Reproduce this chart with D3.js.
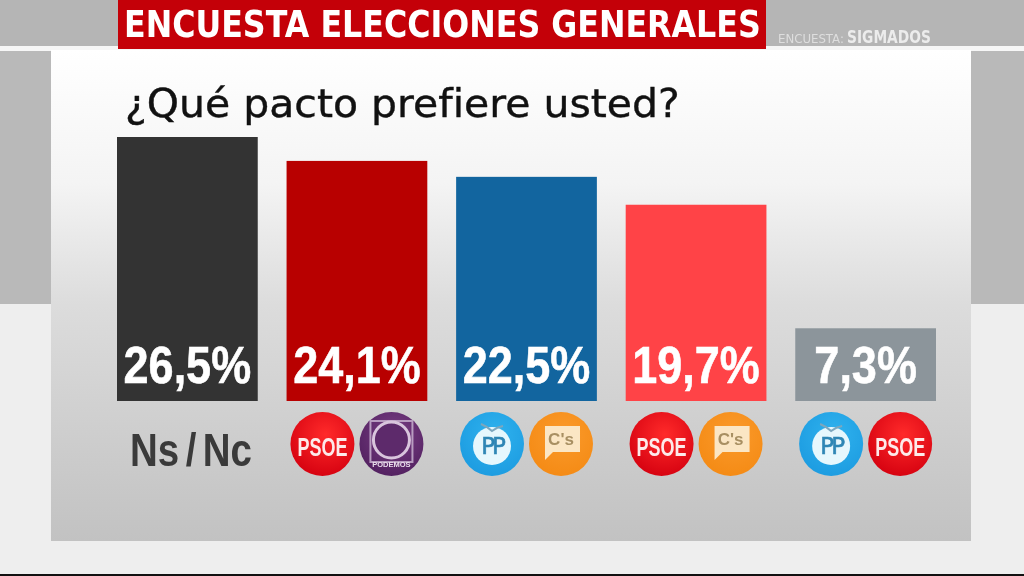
<!DOCTYPE html>
<html lang="es">
<head>
<meta charset="utf-8">
<title>Encuesta elecciones generales</title>
<script src="https://cdnjs.cloudflare.com/ajax/libs/d3/7.9.0/d3.min.js"></script>
<style>
html, body { margin: 0; padding: 0; background: #eeeeee; overflow: hidden; }
svg { display: block; filter: blur(0.6px); }
</style>
</head>
<body>
<svg id="chart"></svg>
<script>
// Datos ----------------------------------------------------------------------
const categorias = ["nsnc", "psoe-podemos", "pp-cs", "psoe-cs", "pp-psoe"];
const valores = [26.5, 24.1, 22.5, 19.7, 7.3];
const etiquetas = ["26,5%", "24,1%", "22,5%", "19,7%", "7,3%"];
const colores = ["#333333", "#b80000", "#12659f", "#ff4347", "#8c959b"];
const pactos = [[], ["psoe", "podemos"], ["pp", "cs"], ["psoe", "cs"], ["pp", "psoe"]];

const titulo = "ENCUESTA ELECCIONES GENERALES";
const pregunta = "¿Qué pacto prefiere usted?";
const sinOpinion = "Ns / Nc";
const fuenteRotulo = "ENCUESTA:";
const fuenteNombre = "SIGMADOS";

// Configuracion --------------------------------------------------------------
const width = 1024;
const height = 576;
const baseY = 401;
const iconY = 444;
const iconR = 32;
const fuenteBarra = "'Liberation Sans', Arial, sans-serif";

const x = d3.scaleBand().domain(categorias).range([117, 936]).paddingInner(0.17);
const y = d3.scaleLinear().domain([0, 26.5]).range([baseY, 137]);

const svg = d3.select("#chart").attr("width", width).attr("height", height);
const defs = svg.append("defs");

const panelGrad = defs.append("linearGradient")
    .attr("id", "panelGrad").attr("x1", 0).attr("y1", 0).attr("x2", 0).attr("y2", 1);
panelGrad.append("stop").attr("offset", "0").attr("stop-color", "#ffffff");
panelGrad.append("stop").attr("offset", "0.27").attr("stop-color", "#f4f4f4");
panelGrad.append("stop").attr("offset", "0.52").attr("stop-color", "#dcdcdc");
panelGrad.append("stop").attr("offset", "1").attr("stop-color", "#c2c2c2");

// Brillo de cada logo
function radial(id, centro, borde) {
    const g = defs.append("radialGradient").attr("id", id)
        .attr("cx", "55%").attr("cy", "35%").attr("r", "70%");
    g.append("stop").attr("offset", "0").attr("stop-color", centro);
    g.append("stop").attr("offset", "1").attr("stop-color", borde);
}
radial("gPsoe", "#ff2a2a", "#d4000f");
radial("gPodemos", "#7a3f85", "#51205f");
radial("gPp", "#2fb2ee", "#1c9be0");
radial("gCs", "#fb9a2b", "#f48a14");

// Comprime un texto en horizontal hasta el ancho pedido
function ajustar(sel, xp, yp, ancho) {
    const natural = sel.node().getComputedTextLength();
    sel.attr("transform", `translate(${xp},${yp}) scale(${ancho / natural},1)`);
}

// Fondo ----------------------------------------------------------------------
function rect(xp, yp, w, h, fill) {
    return svg.append("rect").attr("x", xp).attr("y", yp).attr("width", w).attr("height", h).attr("fill", fill);
}
rect(0, 0, width, height, "#eeeeee");
rect(0, 0, width, 46, "#b5b5b5");
rect(0, 46, width, 5, "#f6f6f6");
rect(0, 51, 51, 253, "#b9b9b9");
rect(971, 51, 53, 253, "#b9b9b9");
rect(51, 50, 920, 491, "url(#panelGrad)");
rect(0, 574, width, 2, "#111111");

// Cabecera -------------------------------------------------------------------
rect(118, 0, 648, 49, "#c40008");
const tituloTxt = svg.append("text")
    .attr("font-family", "'DejaVu Sans'").attr("font-weight", "bold").attr("font-size", 38)
    .attr("fill", "#ffffff").text(titulo);
ajustar(tituloTxt, 124, 37, 637);

const rotuloTxt = svg.append("text")
    .attr("font-family", "'DejaVu Sans'").attr("font-size", 12)
    .attr("fill", "#dedede").text(fuenteRotulo);
ajustar(rotuloTxt, 778, 43, 66);
const nombreTxt = svg.append("text")
    .attr("font-family", "'DejaVu Sans'").attr("font-weight", "bold").attr("font-size", 17)
    .attr("fill", "#ececec").text(fuenteNombre);
ajustar(nombreTxt, 847, 43, 84);

const preguntaTxt = svg.append("text")
    .attr("font-family", "'DejaVu Sans'").attr("font-size", 39)
    .attr("stroke", "#111111").attr("stroke-width", 0.4)
    .attr("fill", "#111111").text(pregunta);
ajustar(preguntaTxt, 125, 117, 555);

// Barras ---------------------------------------------------------------------
svg.append("g").selectAll("rect")
    .data(categorias)
    .join("rect")
    .attr("x", d => x(d))
    .attr("y", (d, i) => y(valores[i]))
    .attr("width", x.bandwidth())
    .attr("height", (d, i) => baseY - y(valores[i]))
    .attr("fill", (d, i) => colores[i]);

svg.append("g").selectAll("text")
    .data(categorias)
    .join("text")
    .attr("x", d => x(d) + x.bandwidth() / 2)
    .attr("y", 383)
    .attr("text-anchor", "middle")
    .attr("font-family", fuenteBarra).attr("font-weight", "bold").attr("font-size", 52)
    .attr("stroke", "#ffffff").attr("stroke-width", 0.6)
    .attr("fill", "#ffffff")
    .text((d, i) => etiquetas[i])
    .each(function () {
        // La rotulacion original es condensada
        d3.select(this)
            .attr("textLength", this.getComputedTextLength() * 0.865)
            .attr("lengthAdjust", "spacingAndGlyphs");
    });

// Ns / Nc
svg.append("text")
    .attr("x", 191).attr("y", 466)
    .attr("text-anchor", "middle")
    .attr("textLength", 122).attr("lengthAdjust", "spacingAndGlyphs")
    .attr("word-spacing", -5)
    .attr("font-family", fuenteBarra).attr("font-weight", "bold").attr("font-size", 46)
    .attr("fill", "#3a3a3a").text(sinOpinion);

// Logos ----------------------------------------------------------------------
function logoPsoe(g) {
    g.append("circle").attr("r", iconR).attr("fill", "url(#gPsoe)");
    g.append("text").attr("y", 12).attr("text-anchor", "middle")
        .attr("font-family", fuenteBarra).attr("font-weight", "bold").attr("font-size", 26)
        .attr("textLength", 50).attr("lengthAdjust", "spacingAndGlyphs")
        .attr("fill", "#fdeaea").text("PSOE");
}
function logoPodemos(g) {
    g.append("circle").attr("r", iconR).attr("fill", "url(#gPodemos)");
    g.append("path").attr("d", "M-21,-23H21V18H-21Z").attr("fill", "none").attr("stroke", "#b89cc0").attr("stroke-width", 2);
    g.append("circle").attr("cy", -4).attr("r", 18).attr("fill", "#5d2a6b").attr("stroke", "#d9c5dd").attr("stroke-width", 3);
    g.append("text").attr("y", 23).attr("text-anchor", "middle")
        .attr("font-family", fuenteBarra).attr("font-size", 7.5).attr("font-weight", "bold")
        .attr("fill", "#e8dcea").text("PODEMOS");
}
function logoPp(g) {
    g.append("circle").attr("r", iconR).attr("fill", "url(#gPp)");
    g.append("circle").attr("cy", 2).attr("r", 19).attr("fill", "#e6f7fd");
    g.append("path").attr("d", "M-11,-20Q-4,-17 0,-13Q5,-17 11,-18").attr("fill", "none").attr("stroke", "#7da6bd").attr("stroke-width", 2);
    g.append("text").attr("y", 10).attr("text-anchor", "middle")
        .attr("font-family", "'DejaVu Sans'").attr("font-size", 23)
        .attr("letter-spacing", -3).attr("stroke", "#2f86b5").attr("stroke-width", 0.6)
        .attr("fill", "#2f86b5").text("PP");
}
function logoCs(g) {
    g.append("circle").attr("r", iconR).attr("fill", "url(#gCs)");
    g.append("path").attr("d", "M-16,-18H19V8H-8L-16,16Z").attr("fill", "#fbe6c4");
    g.append("text").attr("y", 1).attr("text-anchor", "middle")
        .attr("font-family", fuenteBarra).attr("font-weight", "bold").attr("font-size", 17)
        .attr("fill", "#a88f62").text("C's");
}
const logos = { psoe: logoPsoe, podemos: logoPodemos, pp: logoPp, cs: logoCs };

categorias.forEach((c, i) => {
    pactos[i].forEach((p, j) => {
        const cx = x(c) + x.bandwidth() / 2 + (j === 0 ? -34.5 : 34.5);
        logos[p](svg.append("g").attr("transform", `translate(${cx},${iconY})`));
    });
});
</script>
</body>
</html>
